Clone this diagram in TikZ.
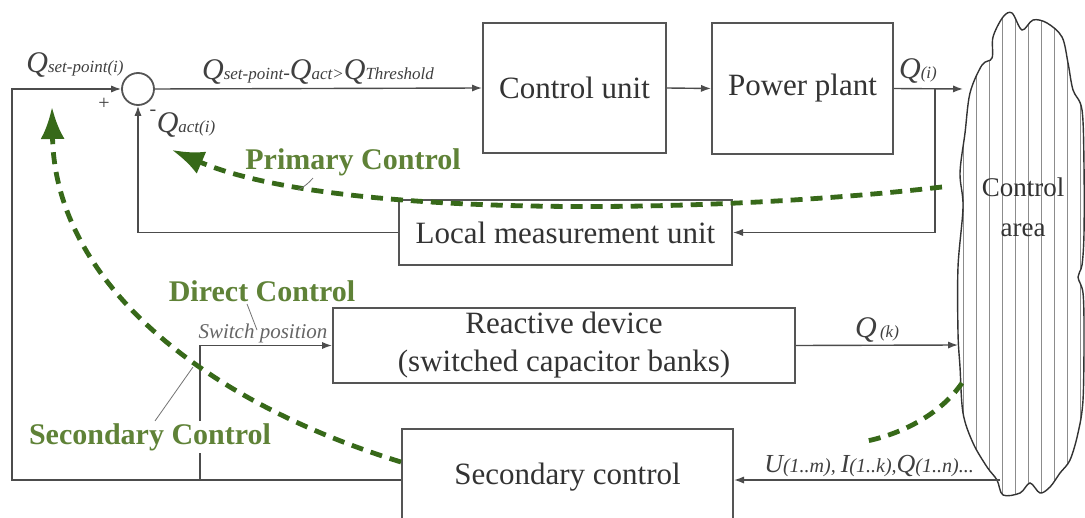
\documentclass[tikz,border=0pt]{standalone}
\usepackage{fontspec}
\setmainfont{LiberationSerif}[Extension=.ttf,UprightFont=*-Regular,BoldFont=*-Bold,ItalicFont=*-Italic,BoldItalicFont=*-BoldItalic]
\usetikzlibrary{arrows.meta}
\definecolor{gline}{RGB}{55,105,25}
\definecolor{gtext}{RGB}{95,130,55}
\definecolor{lc}{RGB}{85,85,85}
\newcommand\qbig[1]{{\fontsize{15}{15}\selectfont\itshape #1}}
\newcommand\qmid[1]{{\fontsize{13}{13}\selectfont\itshape #1}}
\newcommand\qsml[1]{{\fontsize{8.5}{8.5}\selectfont\itshape #1}}
\begin{document}
\begin{tikzpicture}[x=0.5pt,y=-0.5pt,
 box/.style={draw=lc,line width=1pt,fill=white,inner sep=0pt,font=\fontsize{15.5}{19}\selectfont,text=black!80,align=center},
 conn/.style={draw=black!70,line width=0.7pt,-{Latex[length=5pt,width=3.6pt]}},
 wire/.style={draw=black!70,line width=0.7pt},
 gdash/.style={draw=gline,line width=2.4pt,dash pattern=on 6pt off 4pt},
 garrow/.style={gdash,-{Latex[length=16pt,width=12pt]}},
 glabel/.style={text=gtext,font=\fontsize{15}{15}\selectfont\bfseries,inner sep=1pt},
 pointer/.style={draw=black!55,line width=0.4pt},
 lab/.style={text=black!75,inner sep=0pt}]
\useasboundingbox[fill=white] (0,0) rectangle (1085,518);

% cloud
\begin{scope}
\clip plot[smooth cycle,tension=0.55] coordinates {(970,93) (982,65) (992,58) (993,37) (1003,17) (1012,13) (1022,30) (1033,20) (1047,23) (1062,37) (1068,63) (1073,90) (1082,110) (1084,167) (1084,233) (1082,265) (1078,277) (1083,293) (1084,333) (1083,400) (1078,433) (1070,460) (1060,473) (1050,487) (1040,493) (1030,483) (1020,493) (1003,495) (997,480) (987,467) (973,443) (963,413) (960,367) (958,333) (958,267) (963,207) (960,173) (965,133)};
\foreach \x in {963,976,...,1084} \draw[black!45,line width=0.5pt] (\x,0) -- (\x,518);
\end{scope}
\draw[black!80,line width=0.7pt] plot[smooth cycle,tension=0.55] coordinates {(970,93) (982,65) (992,58) (993,37) (1003,17) (1012,13) (1022,30) (1033,20) (1047,23) (1062,37) (1068,63) (1073,90) (1082,110) (1084,167) (1084,233) (1082,265) (1078,277) (1083,293) (1084,333) (1083,400) (1078,433) (1070,460) (1060,473) (1050,487) (1040,493) (1030,483) (1020,493) (1003,495) (997,480) (987,467) (973,443) (963,413) (960,367) (958,333) (958,267) (963,207) (960,173) (965,133)};
\node[text=black!80,font=\fontsize{13.5}{20}\selectfont,align=center,inner sep=0pt] (area) at (1023,207) {Control\\area};

% cloud contact points
\coordinate (cq1) at (963,89);
\coordinate (cq2) at (958,345);
\coordinate (cu1) at (1000,480);
\coordinate (cprim) at (942,187);
\coordinate (csec) at (962,383);

% blocks
\node[draw=lc,line width=0.9pt,circle,minimum size=16pt,inner sep=0pt] (sum) at (138,89) {};
\node[box,minimum width=91.5pt,minimum height=65pt] (cu) at (574.5,88) {Control unit};
\node[box,minimum width=90.5pt,minimum height=65.5pt] (pp) at (802.5,88.5) {Power plant};
\node[box,minimum width=166.5pt,minimum height=32.5pt] (lmu) at (565.5,232.5) {Local measurement unit};
\node[box,minimum width=231pt,minimum height=37.5pt] (rd) at (564,345.5) {Reactive device\\(switched capacitor banks)};
\node[box,minimum width=165.5pt,minimum height=51pt] (sc) at (567.5,480) {};
\node[font=\fontsize{15.5}{19}\selectfont,text=black!80,inner sep=0pt] (sctext) at (567.5,477) {Secondary control};

% black connectors
\coordinate (br) at (935,89);
\coordinate (sw) at (200,480);
\draw[conn] (sum.east) -- (cu.west);
\draw[conn] (cu.east) -- (pp.west);
\draw[conn] (pp.east) -- (cq1);
\draw[conn] (br) |- (lmu.east);
\draw[conn] (lmu.west) -| (sum.south);
\draw[conn] (sc.west) -| (12,89) -- (sum.west);
\draw[conn] (sw) |- (rd.west);
\draw[conn] (rd.east) -- (cq2);
\draw[conn] (cu1) -- (sc.east);

% black labels
\node[lab,anchor=base] (qsp) at (75,73) {\qbig{Q}\qsml{set-point(i)}};
\node[lab,anchor=base] (qdiff) at (318,80) {\qbig{Q}\qsml{set-point}-\qbig{Q}\qsml{act}\qsml{>}\qbig{Q}\qsml{Threshold}};
\node[lab,font=\fontsize{10}{10}\selectfont] (plus) at (104,104) {+};
\node[lab,font=\fontsize{10}{10}\selectfont] (minus) at (153,113) {-};
\node[lab,anchor=base] (qact) at (186,133) {\qbig{Q}\qsml{act(i)}};
\node[lab,anchor=base] (qi) at (918,79) {\qbig{Q}\qsml{(i)}};
\node[lab,anchor=base] (qk) at (877,337) {\qbig{Q}\,\qsml{(k)}};
\node[lab,anchor=base,text=black!60,font=\fontsize{10.5}{10.5}\selectfont\itshape] (swp) at (263,338) {Switch position};
\node[lab,anchor=base] (ulab) at (869,472) {\qmid{U}{\fontsize{10}{10}\selectfont\itshape(1..m), }\qmid{I}{\fontsize{10}{10}\selectfont\itshape(1..k),}\qmid{Q}{\fontsize{10}{10}\selectfont\itshape(1..n)...}};

% green labels
\node[glabel,fill=white] (seclab) at (150,437) {Secondary Control};
\node[glabel] (primlab) at (353,162) {Primary Control};
\node[glabel] (dirlab) at (262,291) {Direct Control};

% green curves
\draw[garrow] (cprim) .. controls (700,215) and (330,218) .. (172,150);
\draw[garrow] (sc.north west |- 0,462) .. controls (200,400) and (55,280) .. (52,107);
\draw[gdash] (csec) .. controls (940,415) and (900,435) .. (862,442);

% pointers
\draw[pointer] (primlab.south) ++(-40,0) to[bend left=10] (298,190);
\draw[pointer] (dirlab.south) ++(-15,0) -- (257,330);
\draw[pointer] (seclab.north) ++(5,0) -- (193,367);
\end{tikzpicture}
\end{document}
